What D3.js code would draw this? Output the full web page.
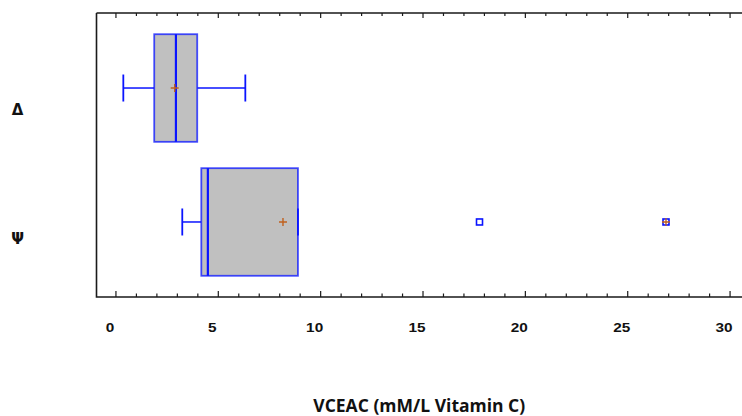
<!DOCTYPE html>
<html>
<head>
<meta charset="utf-8">
<script src="https://cdn.jsdelivr.net/npm/d3@7"></script>
<style>
  html, body { margin: 0; padding: 0; background: #fff; }
  svg { display: block; }
</style>
</head>
<body>
<svg id="chart" width="742" height="416"></svg>
<script>
// Box-and-whisker summary per group
const groups      = ["Δ", "Ψ"];
const whiskerLow  = [0.36, 3.24];
const q1          = [1.87, 4.17];
const medians     = [2.93, 4.49];
const q3          = [3.97, 8.89];
const whiskerHigh = [6.32, 8.89];
const means       = [2.87, 8.16];
// outside points: [group index, value, far-outside flag]
const outliers    = [[1, 17.76, false], [1, 26.87, true]];
const xTicks      = [0, 5, 10, 15, 20, 25, 30];
const axisTitle   = "VCEAC (mM/L Vitamin C)";

const svg = d3.select("#chart");
const W = 742;
const plot = { left: 96.5, top: 13, bottom: 297, right: 761.8 };

const x = d3.scaleLinear().domain([-0.95, 31.55]).range([plot.left, plot.right]);
const y = d3.scalePoint().domain(groups).range([plot.top, plot.bottom]).padding(0.56);
const yLabel = d3.scalePoint().domain(groups).range([110, 239]);

const boxHalf = 53.8;
const capHalf = 13.5;
const blue = "#0a14ff";
const meanColor = "#c0601e";

// frame: left, bottom and top edges
svg.append("path")
  .attr("d", `M${plot.left},${plot.top}H${W + 2}M${plot.left},${plot.top}V${plot.bottom}H${W + 2}`)
  .attr("fill", "none").attr("stroke", "#1a1a1a").attr("stroke-width", 1.6);

// inward ticks on bottom and top
const minor = d3.range(0, 32, 1);
const tickG = svg.append("g").attr("stroke", "#1a1a1a").attr("stroke-width", 1.2);
minor.forEach(v => {
  const major = v % 5 === 0;
  tickG.append("line").attr("x1", x(v)).attr("x2", x(v))
    .attr("y1", plot.bottom).attr("y2", plot.bottom - (major ? 6 : 3.5));
  tickG.append("line").attr("x1", x(v)).attr("x2", x(v))
    .attr("y1", plot.top).attr("y2", plot.top + (major ? 5 : 3));
});

// tick labels (slightly widened bold face)
svg.append("g").selectAll("text").data(xTicks).join("text")
  .attr("transform", d => `translate(${x(d) - 6},332) scale(1.18,1)`)
  .attr("text-anchor", "middle")
  .attr("font-family", "Liberation Sans, Arial, sans-serif")
  .attr("font-weight", "bold").attr("font-size", 13)
  .attr("fill", "#111")
  .text(d => d);

// group labels
svg.append("g").selectAll("text").data(groups).join("text")
  .attr("x", 17.5).attr("y", d => yLabel(d))
  .attr("text-anchor", "middle").attr("dominant-baseline", "central")
  .attr("font-family", "DejaVu Sans, sans-serif")
  .attr("font-weight", "bold").attr("font-size", 15)
  .attr("fill", "#111")
  .text(d => d);

// axis title
svg.append("text")
  .attr("x", (plot.left + W) / 2).attr("y", 412)
  .attr("text-anchor", "middle")
  .attr("font-family", "Open Sans, sans-serif")
  .attr("font-weight", "bold").attr("font-size", 17.5)
  .attr("fill", "#111")
  .text(axisTitle);

// boxes
groups.forEach((g, i) => {
  const cy = y(g);
  const bg = svg.append("g");
  // whiskers
  bg.append("line").attr("x1", x(whiskerLow[i])).attr("x2", x(q1[i]))
    .attr("y1", cy).attr("y2", cy).attr("stroke", blue).attr("stroke-width", 1.5);
  bg.append("line").attr("x1", x(q3[i])).attr("x2", x(whiskerHigh[i]))
    .attr("y1", cy).attr("y2", cy).attr("stroke", blue).attr("stroke-width", 1.5);
  // box
  bg.append("rect")
    .attr("x", x(q1[i])).attr("y", cy - boxHalf)
    .attr("width", x(q3[i]) - x(q1[i])).attr("height", 2 * boxHalf)
    .attr("fill", "#c0c0c0").attr("stroke", blue).attr("stroke-opacity", 0.75)
    .attr("stroke-width", 1.8);
  // whisker caps
  [whiskerLow[i], whiskerHigh[i]].forEach(v => {
    bg.append("line").attr("x1", x(v)).attr("x2", x(v))
      .attr("y1", cy - capHalf).attr("y2", cy + capHalf)
      .attr("stroke", blue).attr("stroke-width", 1.8);
  });
  // median
  bg.append("line").attr("x1", x(medians[i])).attr("x2", x(medians[i]))
    .attr("y1", cy - boxHalf).attr("y2", cy + boxHalf)
    .attr("stroke", blue).attr("stroke-width", 2.2);
  // mean marker
  const mx = x(means[i]);
  bg.append("path")
    .attr("d", `M${mx - 4},${cy}H${mx + 4}M${mx},${cy - 4}V${cy + 4}`)
    .attr("stroke", meanColor).attr("stroke-width", 1.4).attr("fill", "none");
});

// outside points
outliers.forEach(([gi, v, far]) => {
  const cx = x(v), cy = y(groups[gi]);
  svg.append("rect")
    .attr("x", cx - 3).attr("y", cy - 3).attr("width", 6).attr("height", 6)
    .attr("fill", "#fff").attr("stroke", blue).attr("stroke-width", 1.6);
  if (far) {
    svg.append("path")
      .attr("d", `M${cx - 4},${cy}H${cx + 4}M${cx},${cy - 4}V${cy + 4}`)
      .attr("stroke", meanColor).attr("stroke-width", 1.3).attr("fill", "none");
  }
});
</script>
</body>
</html>
